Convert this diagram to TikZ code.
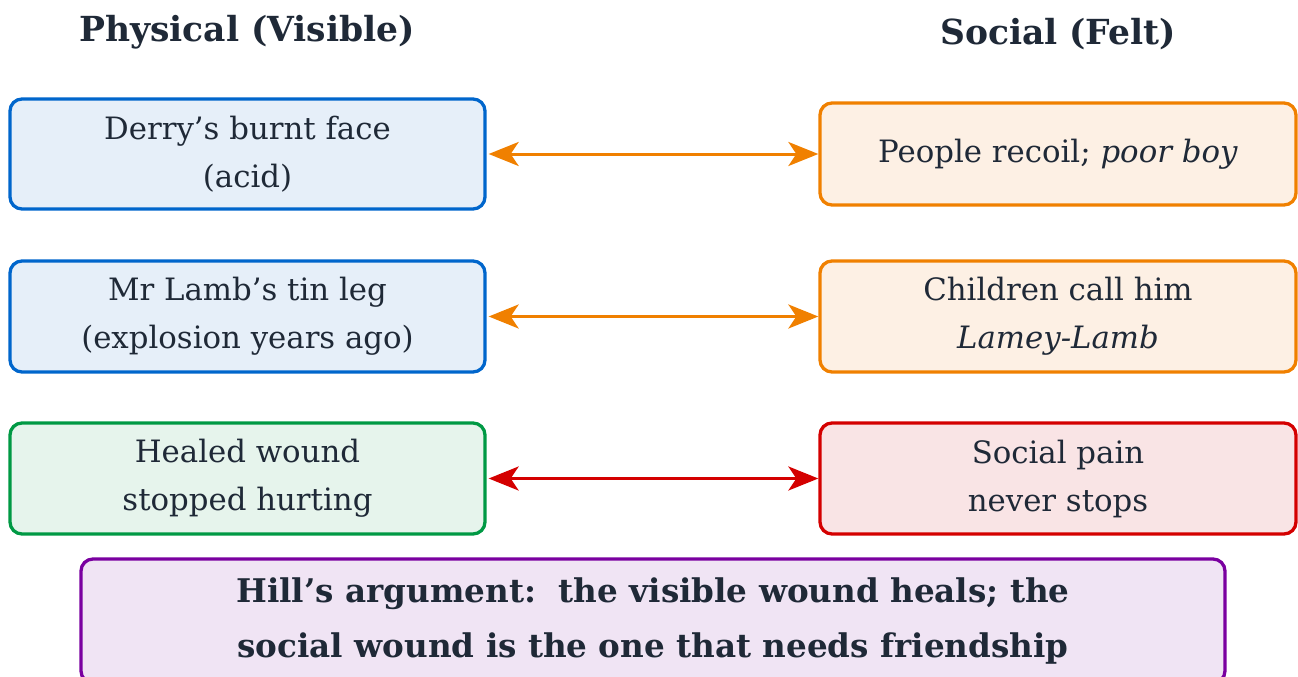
\documentclass[tikz,border=0pt]{standalone}
\usepackage{fontspec}
\setmainfont{DejaVu Serif}
\usetikzlibrary{arrows.meta}
\definecolor{ink}{HTML}{1F2937}
\definecolor{blueline}{HTML}{0066CC}
\definecolor{bluefill}{HTML}{E6EFF9}
\definecolor{orangeline}{HTML}{F08000}
\definecolor{orangefill}{HTML}{FDF0E4}
\definecolor{greenline}{HTML}{009944}
\definecolor{greenfill}{HTML}{E6F4EC}
\definecolor{redline}{HTML}{D40000}
\definecolor{redfill}{HTML}{F9E4E5}
\definecolor{purpleline}{HTML}{7A00A0}
\definecolor{purplefill}{HTML}{F0E4F4}
\tikzset{
  box/.style={draw, line width=3.3pt, rounded corners=12pt, align=center,
    text=ink, inner sep=0pt,
    font=\fontsize{30.8}{48}\selectfont},
  heading/.style={text=ink, font=\bfseries\fontsize{34.5}{48}\selectfont},
  link/.style={line width=3pt, {Stealth[length=30pt,width=24pt,inset=8pt]}-{Stealth[length=30pt,width=24pt,inset=8pt]}},
}
\begin{document}
\begin{tikzpicture}[x=1pt,y=-1pt]
\useasboundingbox (0,0) rectangle (1298,677);
\begin{scope}
\clip (0,0) rectangle (1298,677);
% column headings
\node[heading] (hphys) at (247,32) {Physical (Visible)};
\node[heading] (hsoc) at (1058,34) {Social (Felt)};
% physical side
\node[box, draw=blueline, fill=bluefill, minimum width=475pt, minimum height=110pt] (p1) at (247.5,154) {Derry's burnt face\\(acid)};
\node[box, draw=blueline, fill=bluefill, minimum width=475pt, minimum height=111pt] (p2) at (247.5,316.5) {Mr Lamb's tin leg\\(explosion years ago)};
\node[box, draw=greenline, fill=greenfill, minimum width=475pt, minimum height=111pt] (p3) at (247.5,478.5) {Healed wound\\stopped hurting};
% social side
\node[box, draw=orangeline, fill=orangefill, minimum width=476pt, minimum height=102pt] (s1) at (1058,154) {People recoil; \textit{poor boy}};
\node[box, draw=orangeline, fill=orangefill, minimum width=476pt, minimum height=111pt] (s2) at (1058,316.5) {Children call him\\\textit{Lamey-Lamb}};
\node[box, draw=redline, fill=redfill, minimum width=476pt, minimum height=111pt] (s3) at (1058,478.5) {Social pain\\never stops};
% links between the two sides
\draw[link, orangeline] (p1.east) ++(2,0) coordinate (a1) -- (a1 -| s1.west);
\draw[link, orangeline] (p2.east) ++(2,0) coordinate (a2) -- (a2 -| s2.west);
\draw[link, redline] (p3.east) ++(2,0) coordinate (a3) -- (a3 -| s3.west);
% conclusion
\node[box, draw=purpleline, fill=purplefill, minimum width=1144pt, minimum height=124pt,
  font=\bfseries\fontsize{32.6}{55}\selectfont] (c) at (653,621)
  {Hill's argument:\ \ the visible wound heals; the\\social wound is the one that needs friendship};
\end{scope}
\end{tikzpicture}
\end{document}
